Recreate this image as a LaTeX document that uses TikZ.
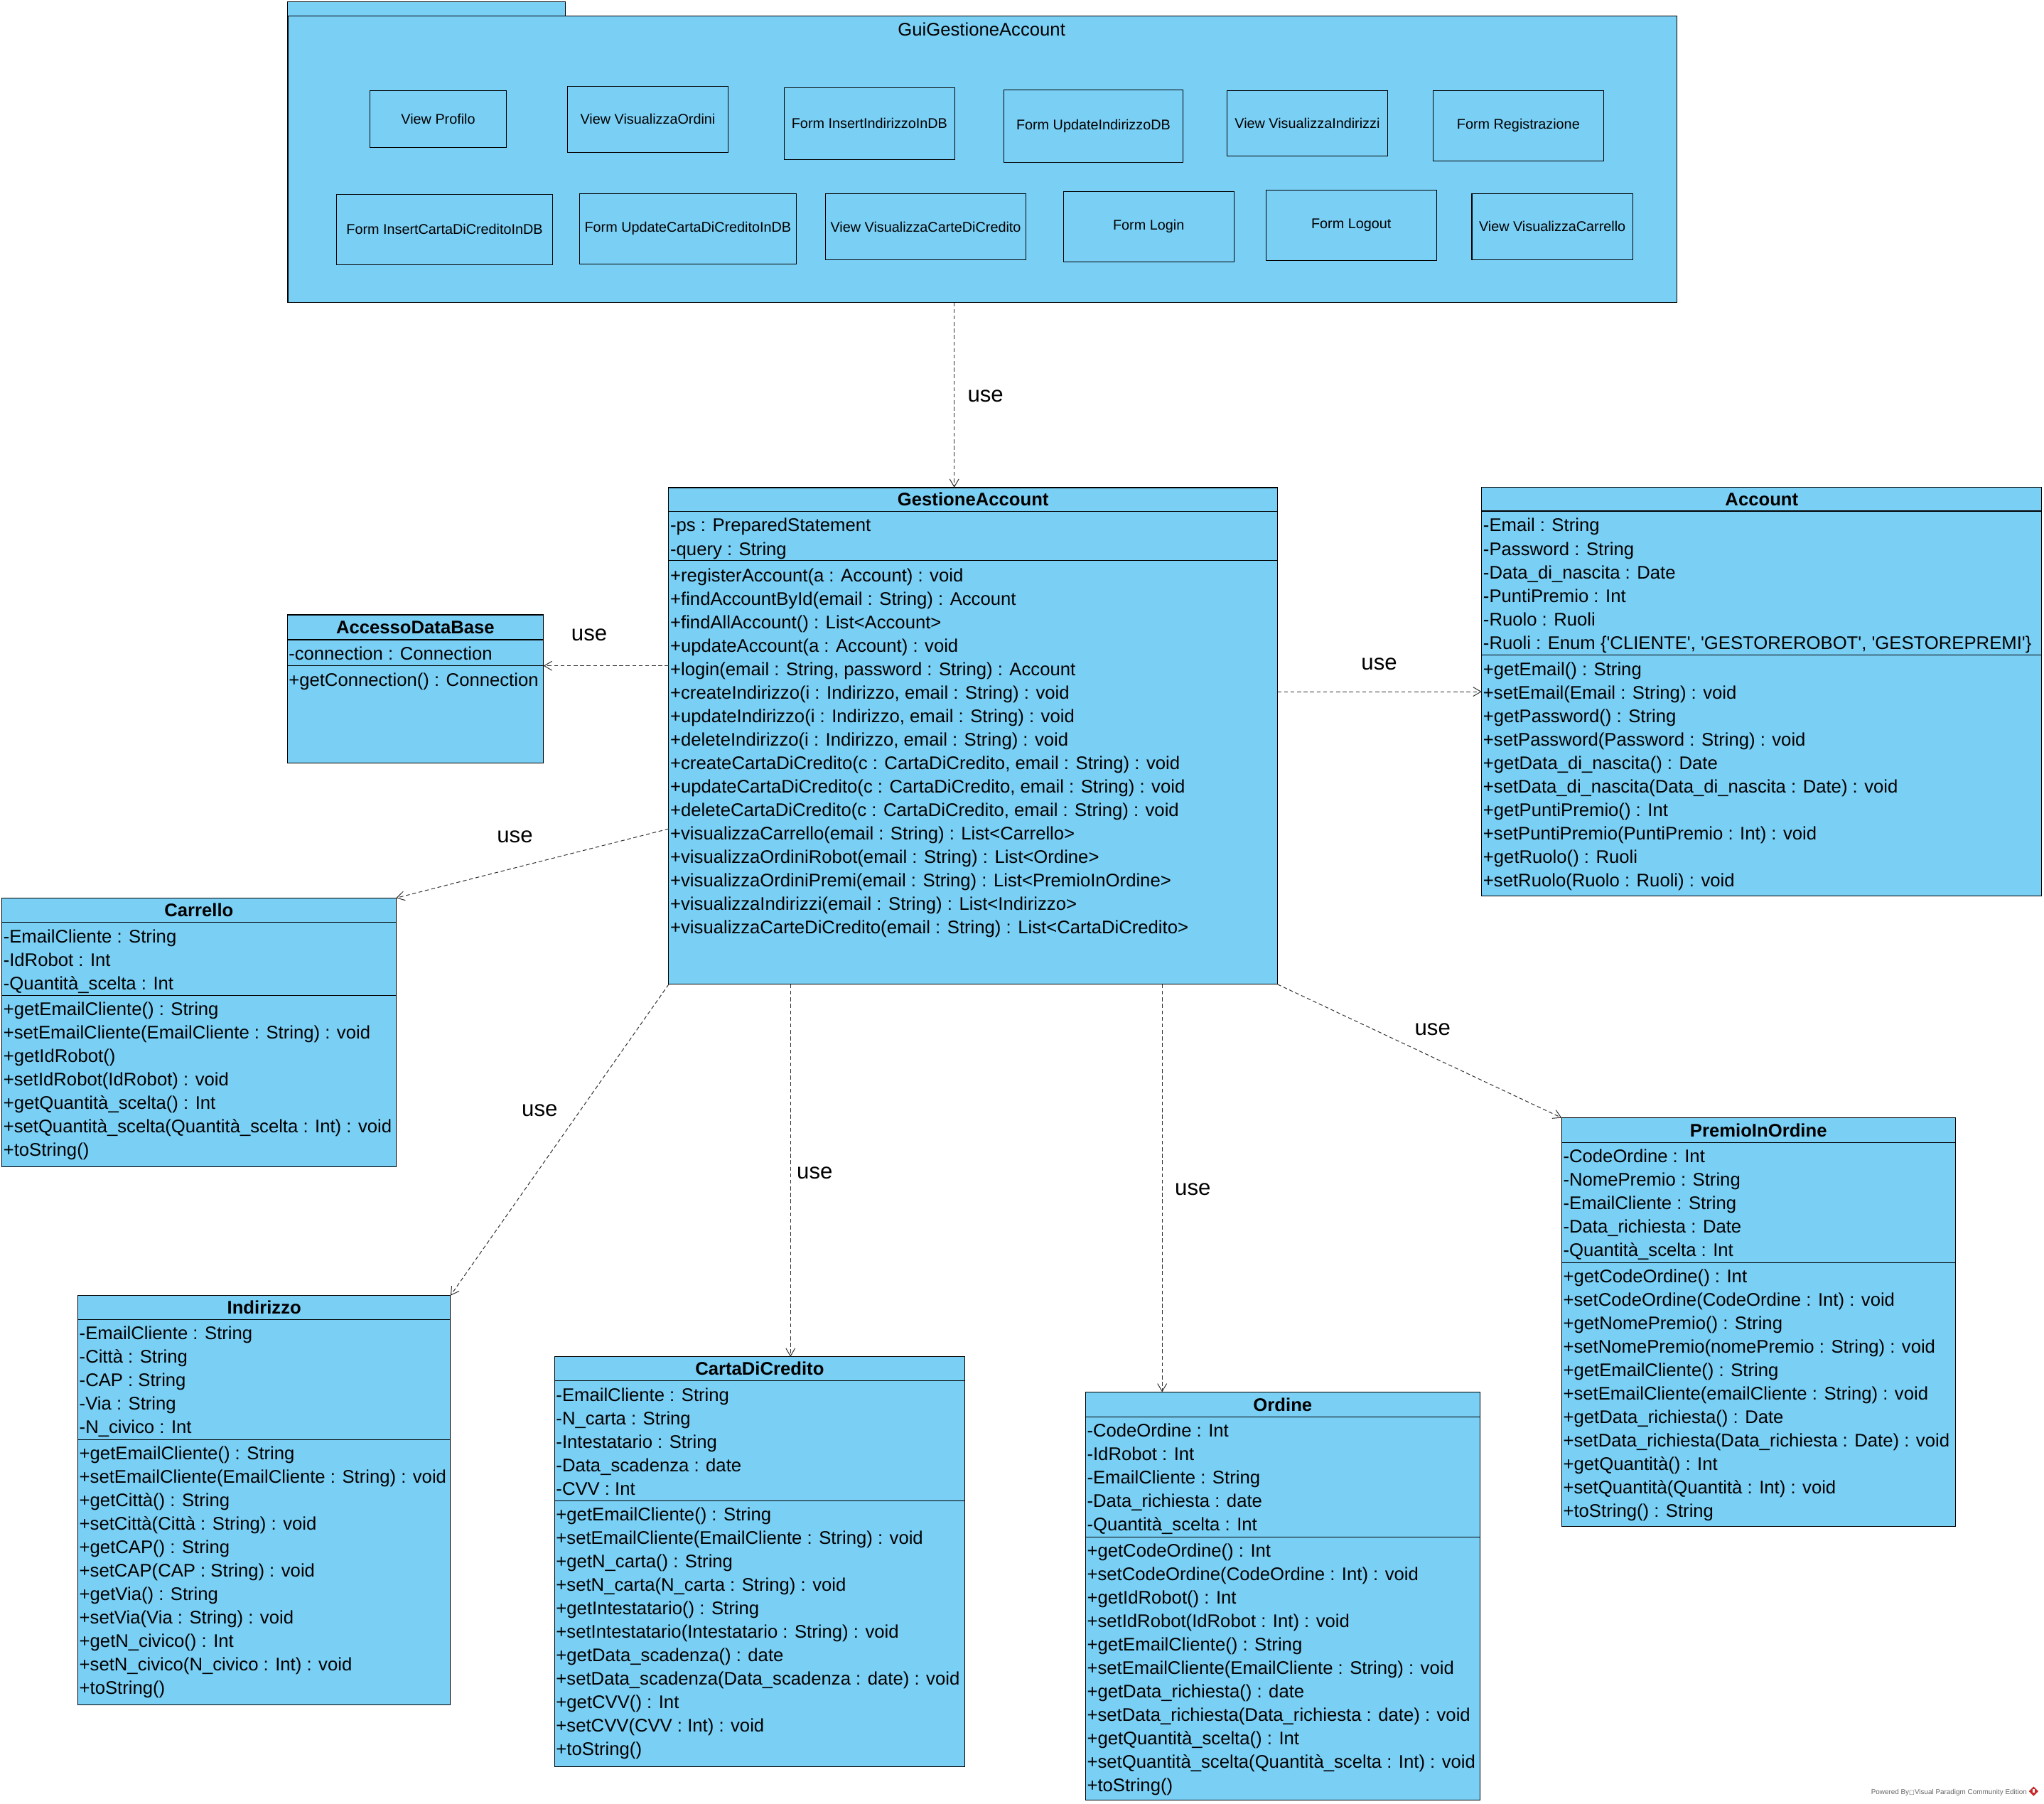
\documentclass[tikz,border=0pt]{standalone}
\usepackage{fontspec}
\newfontfamily\vpfont{Liberation Sans}
\newfontfamily\vpsym{DejaVu Sans}
\usetikzlibrary{arrows.meta,calc}

\definecolor{vpblue}{RGB}{122,207,245}
\definecolor{vpline}{RGB}{50,50,50}
\definecolor{vpred}{RGB}{200,40,40}

\tikzset{
  classbox/.style={draw=black, fill=vpblue, line width=0.6pt, inner sep=0pt, outer sep=0pt},
  guibox/.style={draw=black, fill=vpblue, line width=0.6pt, inner sep=0pt, outer sep=0pt,
    align=center, font=\vpfont\fontsize{10.8}{13}\selectfont},
  rowtext/.style={anchor=base west, inner sep=0pt, font=\vpfont\fontsize{14}{18}\selectfont},
  titletext/.style={anchor=base, inner sep=0pt, font=\vpfont\bfseries\fontsize{14}{18}\selectfont},
  pkgtitle/.style={inner sep=0pt, font=\vpfont\fontsize{14}{18}\selectfont},
  uselabel/.style={anchor=base, inner sep=0pt, font=\vpfont\fontsize{17}{20}\selectfont},
  usedep/.style={draw=vpline, line width=0.55pt, dash pattern=on 3pt off 2pt,
    -{Straight Barb[length=6pt,width=7pt,line width=0.55pt]}},
  divider/.style={draw=black, line width=0.6pt},
}

% class frame: id, x1, y1, x2, y2, header line y, separator y, title
\newcommand\umlbox[8]{%
  \node[classbox, minimum width={#4-#2}, minimum height={#5-#3}] (#1) at ({(#2+#4)/2},{(#3+#5)/2}) {};
  \draw[divider] ({#2},{#6}) -- ({#4},{#6});
  \draw[divider] ({#2},{#7}) -- ({#4},{#7});
  \coordinate (#1-sep) at ({#2},{#7});
  \node[titletext] (#1-title) at ({(#2+#4)/2},{(#3+#6)/2+5}) {#8};
}
% compartment rows: name prefix, left x, centre y of first row, list
\newcommand\umlrows[4]{%
  \foreach \t [count=\i from 0] in {#4} {
    \node[rowtext] (#1\i) at ({#2+1},{#3+18*\i+4.7}) {\t};
  }
}
% boundary element inside the package: id, x1, y1, x2, y2, text
\newcommand\guielem[6]{%
  \node[guibox, minimum width={#4-#2}, minimum height={#5-#3}] (#1) at ({(#2+#4)/2},{(#3+#5)/2}) {#6};
}

\begin{document}
\begin{tikzpicture}[x=1pt,y=-1pt]
\useasboundingbox (0,0) rectangle (1568,1383.2);
\fill[white] (0,0) rectangle (1568,1383.2);

% ---------------- package GuiGestioneAccount ----------------
\node[classbox, minimum width=213, minimum height=10.9] (pkgtab) at (327,6.75) {};
\node[classbox, minimum width=1065.5, minimum height=219.8] (pkg) at (753.55,122.1) {};
\node[pkgtitle] (pkgname) at (753,22.6) {GuiGestioneAccount};

\guielem{vprof}{283.8}{69.4}{388.5}{113.0}{View Profilo}
\guielem{vvord}{435.4}{66.2}{558.5}{116.8}{View VisualizzaOrdini}
\guielem{finsind}{601.6}{67.2}{732.4}{122.4}{Form InsertIndirizzoInDB}
\guielem{fupdind}{769.9}{68.9}{907.6}{124.6}{Form UpdateIndirizzoDB}
\guielem{vvind}{941.3}{69.4}{1064.4}{119.6}{View VisualizzaIndirizzi}
\guielem{freg}{1099.2}{69.4}{1230.3}{123.4}{Form Registrazione}
\guielem{finscdc}{258.1}{149.0}{424.0}{203.0}{Form InsertCartaDiCreditoInDB}
\guielem{fupdcdc}{444.4}{148.5}{611.0}{202.4}{Form UpdateCartaDiCreditoInDB}
\guielem{vvcdc}{633.3}{148.5}{787.0}{199.4}{View VisualizzaCarteDiCredito}
\guielem{flogin}{815.8}{146.8}{946.5}{200.8}{Form Login}
\guielem{flogout}{971.2}{145.7}{1101.9}{199.7}{Form Logout}
\guielem{vvcar}{1129.1}{148.5}{1252.5}{199.2}{View VisualizzaCarrello}

% ---------------- GestioneAccount ----------------
\umlbox{ga}{513}{374}{980}{755}{392.2}{430.1}{GestioneAccount}
\umlrows{ga-a}{513}{403.1}{-ps : PreparedStatement, -query : String}
\umlrows{ga-m}{513}{441.3}{%
  +registerAccount(a : Account) : void,
  +findAccountById(email : String) : Account,
  +findAllAccount() : List<Account>,
  +updateAccount(a : Account) : void,
  {+login(email : String, password : String) : Account},
  {+createIndirizzo(i : Indirizzo, email : String) : void},
  {+updateIndirizzo(i : Indirizzo, email : String) : void},
  {+deleteIndirizzo(i : Indirizzo, email : String) : void},
  {+createCartaDiCredito(c : CartaDiCredito, email : String) : void},
  {+updateCartaDiCredito(c : CartaDiCredito, email : String) : void},
  {+deleteCartaDiCredito(c : CartaDiCredito, email : String) : void},
  +visualizzaCarrello(email : String) : List<Carrello>,
  +visualizzaOrdiniRobot(email : String) : List<Ordine>,
  +visualizzaOrdiniPremi(email : String) : List<PremioInOrdine>,
  +visualizzaIndirizzi(email : String) : List<Indirizzo>,
  +visualizzaCarteDiCredito(email : String) : List<CartaDiCredito>}

% ---------------- AccessoDataBase ----------------
\umlbox{adb}{220.3}{471.6}{416.9}{585.2}{490.7}{510.7}{AccessoDataBase}
\umlrows{adb-a}{220.3}{501.6}{-connection : Connection}
\umlrows{adb-m}{220.3}{521.6}{+getConnection() : Connection}

% ---------------- Account ----------------
\umlbox{acc}{1136.6}{373.7}{1566.3}{687.4}{392}{502.2}{Account}
\umlrows{acc-a}{1136.6}{403.1}{%
  -Email : String,
  -Password : String,
  -Data\_di\_nascita : Date,
  -PuntiPremio : Int,
  -Ruolo : Ruoli,
  {-Ruoli : Enum \{'CLIENTE', 'GESTOREROBOT', 'GESTOREPREMI'\}}}
\umlrows{acc-m}{1136.6}{513.6}{%
  +getEmail() : String,
  +setEmail(Email : String) : void,
  +getPassword() : String,
  +setPassword(Password : String) : void,
  +getData\_di\_nascita() : Date,
  +setData\_di\_nascita(Data\_di\_nascita : Date) : void,
  +getPuntiPremio() : Int,
  +setPuntiPremio(PuntiPremio : Int) : void,
  +getRuolo() : Ruoli,
  +setRuolo(Ruolo : Ruoli) : void}

% ---------------- Carrello ----------------
\umlbox{car}{1.4}{688.8}{303.8}{894.7}{707.3}{763.7}{Carrello}
\umlrows{car-a}{1.4}{718.4}{-EmailCliente : String, -IdRobot : Int, -Quantità\_scelta : Int}
\umlrows{car-m}{1.4}{774.2}{%
  +getEmailCliente() : String,
  +setEmailCliente(EmailCliente : String) : void,
  +getIdRobot(),
  +setIdRobot(IdRobot) : void,
  +getQuantità\_scelta() : Int,
  +setQuantità\_scelta(Quantità\_scelta : Int) : void,
  +toString()}

% ---------------- Indirizzo ----------------
\umlbox{ind}{59.7}{993.7}{345.6}{1307.7}{1012.3}{1104.3}{Indirizzo}
\umlrows{ind-a}{59.7}{1022.7}{-EmailCliente : String, -Città : String, -CAP : String, -Via : String, -N\_civico : Int}
\umlrows{ind-m}{59.7}{1114.7}{%
  +getEmailCliente() : String,
  +setEmailCliente(EmailCliente : String) : void,
  +getCittà() : String,
  +setCittà(Città : String) : void,
  +getCAP() : String,
  +setCAP(CAP : String) : void,
  +getVia() : String,
  +setVia(Via : String) : void,
  +getN\_civico() : Int,
  +setN\_civico(N\_civico : Int) : void,
  +toString()}

% ---------------- CartaDiCredito ----------------
\umlbox{cdc}{425.4}{1040.7}{740.1}{1354.9}{1059.2}{1151}{CartaDiCredito}
\umlrows{cdc-a}{425.4}{1070.1}{-EmailCliente : String, -N\_carta : String, -Intestatario : String, -Data\_scadenza : date, -CVV : Int}
\umlrows{cdc-m}{425.4}{1161.9}{%
  +getEmailCliente() : String,
  +setEmailCliente(EmailCliente : String) : void,
  +getN\_carta() : String,
  +setN\_carta(N\_carta : String) : void,
  +getIntestatario() : String,
  +setIntestatario(Intestatario : String) : void,
  +getData\_scadenza() : date,
  +setData\_scadenza(Data\_scadenza : date) : void,
  +getCVV() : Int,
  +setCVV(CVV : Int) : void,
  +toString()}

% ---------------- Ordine ----------------
\umlbox{ord}{832.7}{1067.8}{1135.3}{1380.9}{1086.7}{1179.2}{Ordine}
\umlrows{ord-a}{832.7}{1097.5}{-CodeOrdine : Int, -IdRobot : Int, -EmailCliente : String, -Data\_richiesta : date, -Quantità\_scelta : Int}
\umlrows{ord-m}{832.7}{1189.7}{%
  +getCodeOrdine() : Int,
  +setCodeOrdine(CodeOrdine : Int) : void,
  +getIdRobot() : Int,
  +setIdRobot(IdRobot : Int) : void,
  +getEmailCliente() : String,
  +setEmailCliente(EmailCliente : String) : void,
  +getData\_richiesta() : date,
  +setData\_richiesta(Data\_richiesta : date) : void,
  +getQuantità\_scelta() : Int,
  +setQuantità\_scelta(Quantità\_scelta : Int) : void,
  +toString()}

% ---------------- PremioInOrdine ----------------
\umlbox{pio}{1198}{857.4}{1499.9}{1170.8}{876.6}{968.4}{PremioInOrdine}
\umlrows{pio-a}{1198}{887}{-CodeOrdine : Int, -NomePremio : String, -EmailCliente : String, -Data\_richiesta : Date, -Quantità\_scelta : Int}
\umlrows{pio-m}{1198}{979.2}{%
  +getCodeOrdine() : Int,
  +setCodeOrdine(CodeOrdine : Int) : void,
  +getNomePremio() : String,
  +setNomePremio(nomePremio : String) : void,
  +getEmailCliente() : String,
  +setEmailCliente(emailCliente : String) : void,
  +getData\_richiesta() : Date,
  +setData\_richiesta(Data\_richiesta : Date) : void,
  +getQuantità() : Int,
  +setQuantità(Quantità : Int) : void,
  +toString() : String}

% ---------------- use dependencies ----------------
\coordinate (pkgout) at ($(pkg.south west)!0.4798!(pkg.south east)$);
\draw[usedep] (pkgout) -- (pkgout |- ga.north);
\draw[usedep] (ga.west |- adb-sep) -- (adb.east |- adb-sep);
\draw[usedep] (ga.east |- acc.west) -- (acc.west);
\draw[usedep] ($(ga.north west)!0.687!(ga.south west)$) -- (car.north east);
\draw[usedep] (ga.south west) -- (ind.north east);
\coordinate (gacdc) at ($(ga.south west)!0.2!(ga.south east)$);
\draw[usedep] (gacdc) -- (gacdc |- cdc.north);
\coordinate (gaord) at ($(ga.south west)!0.8105!(ga.south east)$);
\draw[usedep] (gaord) -- (gaord |- ord.north);
\draw[usedep] (ga.south east) -- (pio.north west);

\node[uselabel] (u1) at (756,308.5) {use};
\node[uselabel] (u2) at (452,491.5) {use};
\node[uselabel] (u3) at (1058,514) {use};
\node[uselabel] (u4) at (395,646.5) {use};
\node[uselabel] (u5) at (414,856.5) {use};
\node[uselabel] (u6) at (625,904) {use};
\node[uselabel] (u7) at (915,917) {use};
\node[uselabel] (u8) at (1099,794) {use};

% ---------------- edition mark ----------------
\node[anchor=base east, inner sep=0pt, text=black!60,
  font=\vpfont\fontsize{5.4}{6}\selectfont] (wm) at (1555,1376.2)
  {Powered By{\vpsym\fontsize{4.5}{6}\selectfont □}Visual Paradigm Community Edition};
\fill[vpred] (1560,1370.4) -- (1563.6,1374) -- (1560,1377.6) -- (1556.4,1374) -- cycle;
\fill[white] (1559.3,1372.3) rectangle (1560.7,1375.2);
\end{tikzpicture}
\end{document}
